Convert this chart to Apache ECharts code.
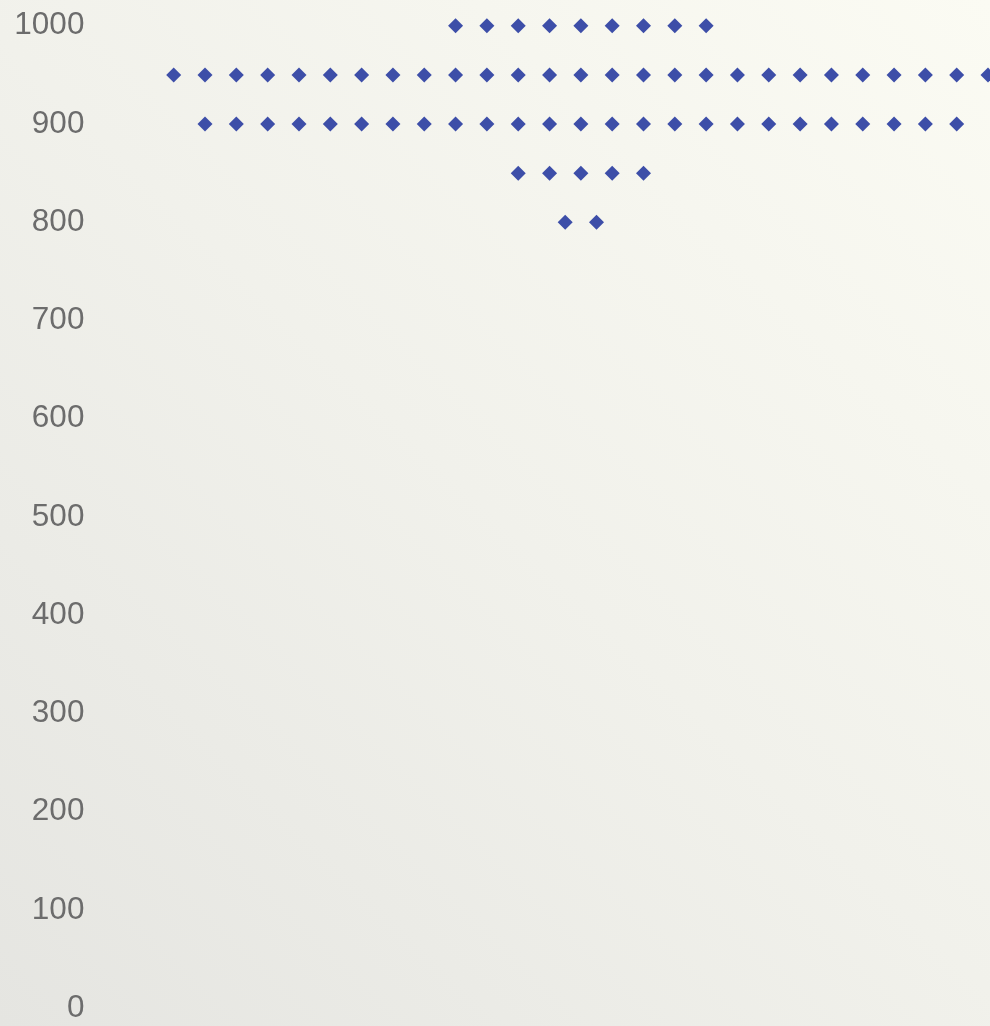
<!DOCTYPE html>
<html>
<head>
<meta charset="utf-8">
<style>
  html, body { margin: 0; padding: 0; width: 990px; height: 1026px; overflow: hidden; }
  #chart { width: 990px; height: 1026px; }
</style>
<script src="https://cdn.jsdelivr.net/npm/echarts@6/dist/echarts.min.js"></script>
</head>
<body>
<div id="chart"></div>
<script>
// Levels (y values) of each row of points
const rowLevels = [1000, 950, 900, 850, 800];

// Horizontal positions of the points in each row
const row1000X = [9, 10, 11, 12, 13, 14, 15, 16, 17];
const row950X = [0, 1, 2, 3, 4, 5, 6, 7, 8, 9, 10, 11, 12, 13, 14, 15, 16, 17, 18, 19, 20, 21, 22, 23, 24, 25, 26, 27];
const row900X = [1, 2, 3, 4, 5, 6, 7, 8, 9, 10, 11, 12, 13, 14, 15, 16, 17, 18, 19, 20, 21, 22, 23, 24, 25];
const row850X = [11, 12, 13, 14, 15];
const row800X = [12.5, 13.5];

// Y axis tick labels
const yTicks = [0, 100, 200, 300, 400, 500, 600, 700, 800, 900, 1000];

const rows = [row1000X, row950X, row900X, row850X, row800X];
const points = [];
rows.forEach(function (xs, i) {
  xs.forEach(function (x) { points.push([x, rowLevels[i]]); });
});

const chart = echarts.init(document.getElementById('chart'), null, { renderer: 'canvas' });
chart.setOption({
  animation: false,
  backgroundColor: new echarts.graphic.LinearGradient(0, 1, 1, 0, [
    { offset: 0, color: '#e5e5e1' },
    { offset: 0.5, color: '#f1f1eb' },
    { offset: 1, color: '#fbfbf3' }
  ]),
  grid: {
    left: 95.4,
    top: 25.8,
    width: 939.6,
    height: 982.5,
    outerBoundsMode: 'none',
    containLabel: false
  },
  xAxis: {
    type: 'value',
    min: -2.5,
    max: 27.5,
    show: false
  },
  yAxis: {
    type: 'value',
    min: yTicks[0],
    max: yTicks[yTicks.length - 1],
    interval: 100,
    axisLine: { show: false },
    axisTick: { show: false },
    splitLine: { show: false },
    axisLabel: {
      margin: 11,
      color: '#6c6c6c',
      fontFamily: 'Liberation Sans, Arial, sans-serif',
      fontSize: 31.5,
      padding: [4, 0, 0, 0],
      formatter: function (v) { return yTicks.indexOf(v) >= 0 ? String(v) : ''; }
    }
  },
  series: [{
    type: 'scatter',
    data: points,
    symbol: 'diamond',
    symbolSize: [15, 15],
    clip: true,
    itemStyle: { color: '#3d4ea8', opacity: 1 }
  }]
});
</script>
</body>
</html>
